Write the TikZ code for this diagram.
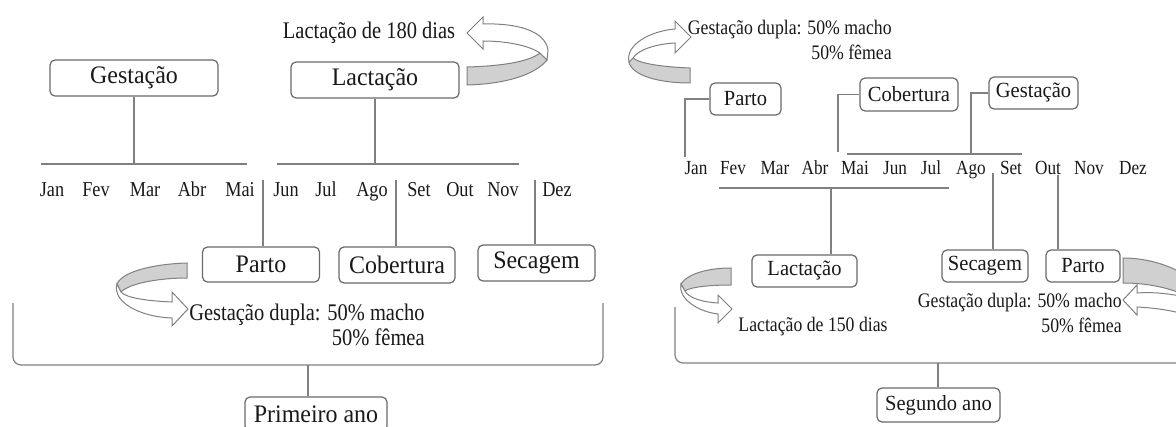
\documentclass[tikz,border=0pt]{standalone}
\usepackage{fontspec}
\setmainfont{Liberation Serif}
\newfontfamily\cond[FakeStretch=0.86]{Liberation Serif}
\newfontfamily\boxf[FakeStretch=0.95]{Liberation Serif}
\definecolor{ln}{RGB}{128,128,128}
\definecolor{bx}{RGB}{105,105,105}
\definecolor{shade}{RGB}{208,208,208}
\definecolor{tx}{RGB}{25,25,25}
\tikzset{
  ln/.style={draw=ln, line width=0.6pt},
  boxL/.style={draw=bx, line width=0.6pt, rounded corners=2.5pt, inner sep=0pt, text=tx,
    font=\boxf\fontsize{12.6}{14}\selectfont},
  boxR/.style={draw=bx, line width=0.6pt, rounded corners=2.5pt, inner sep=0pt, text=tx,
    font=\boxf\fontsize{10.8}{12}\selectfont},
  monthL/.style={inner sep=0pt, anchor=base, text=tx, font=\cond\fontsize{10.6}{12}\selectfont},
  monthR/.style={inner sep=0pt, anchor=base, text=tx, font=\cond\fontsize{10}{11}\selectfont},
  lblL/.style={inner sep=0pt, text=tx, align=right, font=\cond\fontsize{11.9}{12.5}\selectfont},
  lblR/.style={inner sep=0pt, text=tx, align=right, font=\cond\fontsize{10.3}{12.5}\selectfont},
  band/.style={draw=ln, line width=0.5pt, fill=shade},
  bandw/.style={draw=ln, line width=0.5pt, fill=white},
}
\begin{document}
\begin{tikzpicture}[x=0.5pt,y=-0.5pt]
\useasboundingbox (0,0) rectangle (1176,427);
\clip (0,0) rectangle (1176,427);
\fill[white] (0,0) rectangle (1176,427);

% ================= LEFT PANEL =================
\node[boxL, minimum width=84pt, minimum height=18pt] (gest) at (134,78) {Gestação};
\node[boxL, minimum width=84pt, minimum height=18pt] (lact) at (375,80) {Lactação};
\node[lblL, anchor=center] (l180) at (369,33) {Lactação de 180 dias};

% curved arrow near Lactação
\path[band] (467,67) .. controls (505,66) and (530,61) .. (540,53) -- (547,60)
  .. controls (535,75) and (505,84) .. (467,85) -- cycle;
\path[bandw] (540,53) .. controls (528,45) and (505,41) .. (483,41) -- (483,49) -- (467,33)
  -- (483,17) -- (483,24) .. controls (515,23) and (545,30) .. (548,50) -- (547,60) -- cycle;

\coordinate (l1a) at (41,164); \coordinate (l1b) at (247,164);
\coordinate (l2a) at (277,164); \coordinate (l2b) at (519,164);
\draw[ln] (l1a) -- (l1b);
\draw[ln] (l2a) -- (l2b);
\draw[ln] (gest.south) -- (gest.south |- l1a);
\draw[ln] (lact.south) -- (lact.south |- l2a);

\foreach \m/\x [count=\i] in {Jan/52,Fev/96,Mar/145,Abr/192,Mai/240,Jun/286,Jul/326,Ago/372,Set/419,Out/460,Nov/503,Dez/557}
  \node[monthL] (ml\i) at (\x,197) {\m};

\node[boxL, minimum width=58.5pt, minimum height=17.5pt] (parto) at (261,264.5) {Parto};
\node[boxL, minimum width=58pt, minimum height=18pt] (cob) at (397,265) {Cobertura};
\node[boxL, minimum width=58.5pt, minimum height=18pt] (sec) at (536.5,263) {Secagem};

\coordinate (s1) at (263,180); \coordinate (s2) at (396,180); \coordinate (s3) at (535,180);
\draw[ln] (s1) -- (s1 |- parto.north);
\draw[ln] (s2) -- (s2 |- cob.north);
\draw[ln] (s3) -- (s3 |- sec.north);

% curved arrow near Parto
\path[band] (187,263) -- (187,278) .. controls (160,278) and (130,283) .. (121,292)
  -- (117,284) .. controls (122,272) and (152,264) .. (187,263) -- cycle;
\path[bandw] (117,284) .. controls (112,302) and (140,317) .. (172,318) -- (172,326) -- (188,309)
  -- (172,292) -- (172,302) .. controls (148,301) and (126,298) .. (121,292) -- cycle;

\node[lblL, anchor=east] (gdl) at (425,324.5) {Gestação dupla: 50\% macho\\50\% fêmea};

\draw[ln, rounded corners=4] (13,303) -- (13,365) -- (603,365) -- (603,303);
\node[boxL, minimum width=71pt, minimum height=17pt] (prim) at (316,414) {Primeiro ano};
\coordinate (b1) at (308,365);
\draw[ln] (b1) -- (b1 |- prim.north);

% ================= RIGHT PANEL =================
% top-left curved arrow
\path[band] (690,68) .. controls (665,67) and (640,64) .. (633,58) -- (629,62)
  .. controls (632,76) and (660,83) .. (690,83) -- cycle;
\path[bandw] (629,62) .. controls (625,45) and (650,31) .. (675,29) -- (675,21) -- (691,37)
  -- (675,53) -- (675,43) .. controls (655,44) and (638,50) .. (633,58) -- cycle;
\node[lblR, anchor=east] (gdr1) at (892,39.5) {Gestação dupla: 50\% macho\\50\% fêmea};

\node[boxR, minimum width=35.5pt, minimum height=16pt] (rparto) at (745.5,99) {Parto};
\node[boxR, minimum width=49pt, minimum height=16.5pt] (rcob) at (909,94.5) {Cobertura};
\node[boxR, minimum width=44.5pt, minimum height=16pt] (rgest) at (1033.5,93) {Gestação};

\foreach \m/\x [count=\i] in {Jan/696,Fev/733,Mar/775,Abr/815,Mai/855,Jun/895,Jul/931,Ago/971,Set/1011,Out/1048,Nov/1089,Dez/1133}
  \node[monthR] (mr\i) at (\x,174.5) {\m};

\coordinate (rj) at (685,157);
\coordinate (rc) at (838,152);
\coordinate (rg) at (971,154);
\draw[ln] (rparto.west) -| (rj);
\draw[ln] (rcob.west) -| (rc);
\draw[ln] (rgest.west) -| (rg);
\coordinate (t1a) at (847,154); \coordinate (t1b) at (1022,154);
\draw[ln] (t1a) -- (t1b);

\node[boxR, minimum width=52.5pt, minimum height=16pt] (rlact) at (804.5,271) {Lactação};
\node[boxR, minimum width=43pt, minimum height=16pt] (rsec) at (985,266) {Secagem};
\node[boxR, minimum width=37pt, minimum height=16pt] (rparto2) at (1083,266) {Parto};

\coordinate (u1a) at (719,188); \coordinate (u1b) at (949,188);
\draw[ln] (u1a) -- (u1b);
\coordinate (rb) at (831,188);
\draw[ln] (rb) -- (rb |- rlact.north);
\coordinate (rs) at (993,173);
\draw[ln] (rs) -- (rs |- rsec.north);
\coordinate (ro) at (1058,175);
\draw[ln] (ro) -- (ro |- rparto2.north);

% curved arrow near Lactação (right)
\path[band] (731,268) -- (731,285) .. controls (710,285) and (690,287) .. (685,291)
  -- (681,284) .. controls (688,273) and (710,268) .. (731,268) -- cycle;
\path[bandw] (681,284) .. controls (678,300) and (700,312) .. (718,314) -- (718,323) -- (732,309)
  -- (718,295) -- (718,303) .. controls (700,302) and (688,297) .. (685,291) -- cycle;
\node[lblR, anchor=center] (l150) at (813,327) {Lactação de 150 dias};

% curved arrow near Parto (right)
\path[band] (1123,258) .. controls (1145,258) and (1165,264) .. (1180,272) -- (1180,293)
  .. controls (1165,287) and (1145,283) .. (1123,283) -- cycle;
\path[bandw] (1180,296) .. controls (1165,293) and (1150,292) .. (1137,293) -- (1137,285) -- (1123,300)
  -- (1137,315) -- (1137,307) .. controls (1155,308) and (1168,310) .. (1180,313) -- cycle;
\node[lblR, anchor=east] (gdr2) at (1122,312.5) {Gestação dupla: 50\% macho\\50\% fêmea};

\draw[ln, rounded corners=4] (675,307) -- (675,363) -- (1190,363);
\node[boxR, minimum width=61.5pt, minimum height=17pt] (seg) at (938.5,405) {Segundo ano};
\coordinate (b2) at (938,363);
\draw[ln] (b2) -- (b2 |- seg.north);
\end{tikzpicture}
\end{document}
